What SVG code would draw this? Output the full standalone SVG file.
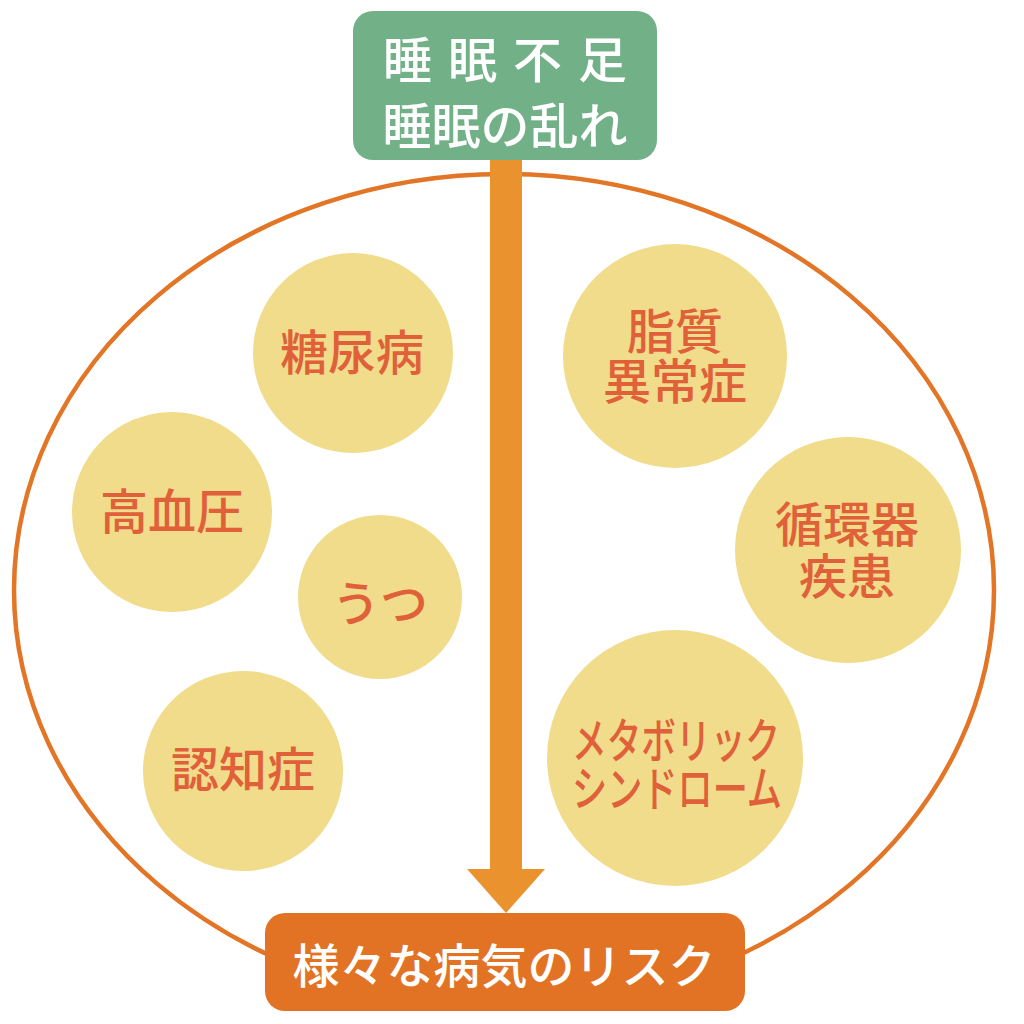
<svg xmlns="http://www.w3.org/2000/svg" width="1024" height="1024" viewBox="0 0 1024 1024">
<style>
.jp{font-family:"Noto Sans CJK JP","Noto Sans",sans-serif;text-anchor:middle;dominant-baseline:central;font-weight:500}
.wt{fill:#ffffff}
.dz{fill:#f0dc8a}
.dt{fill:#e0603a;font-size:48px}
</style>
<rect width="1024" height="1024" fill="#ffffff"/>
<g id="scope">
<ellipse cx="504" cy="590" rx="490" ry="416" fill="none" stroke="#e37526" stroke-width="4.5"/>
</g>
<g id="connectors">
<rect x="490" y="158" width="32" height="712" fill="#e9922e"/>
<polygon points="467,869 545,869 506,913" fill="#e9922e"/>
</g>
<g id="top">
<rect x="353" y="11" width="304" height="149" rx="20" fill="#72b087"/>
<text class="jp wt" font-size="49"><tspan x="513" y="56" letter-spacing="16">睡眠不足</tspan><tspan x="505" y="122">睡眠の乱れ</tspan></text>
</g>
<g id="bottom">
<rect x="265" y="913" width="480" height="98" rx="20" fill="#e27324"/>
<text class="jp wt" x="504" y="962" font-size="47">様々な病気のリスク</text>
</g>
<g id="n-tonyo">
<circle class="dz" cx="353" cy="353" r="100"/>
<text class="jp dt" x="352" y="349">糖尿病</text>
</g>
<g id="n-ketsuatsu">
<circle class="dz" cx="172" cy="512" r="100"/>
<text class="jp dt" x="172" y="508">高血圧</text>
</g>
<g id="n-utsu">
<circle class="dz" cx="380" cy="597" r="82"/>
<text class="jp dt" x="380" y="600">うつ</text>
</g>
<g id="n-ninchi">
<circle class="dz" cx="243" cy="771" r="100"/>
<text class="jp dt" x="243" y="766">認知症</text>
</g>
<g id="n-shishitsu">
<circle class="dz" cx="675" cy="356" r="112"/>
<text class="jp dt"><tspan x="675" y="328">脂質</tspan><tspan x="675" y="378">異常症</tspan></text>
</g>
<g id="n-junkan">
<circle class="dz" cx="848" cy="550" r="113"/>
<text class="jp dt"><tspan x="847" y="521">循環器</tspan><tspan x="847" y="573">疾患</tspan></text>
</g>
<g id="n-metabo">
<circle class="dz" cx="675" cy="758" r="128"/>
<text class="jp dt" font-size="38"><tspan x="676" y="737" textLength="208" lengthAdjust="spacingAndGlyphs">メタボリック</tspan><tspan x="677" y="785" textLength="210" lengthAdjust="spacingAndGlyphs">シンドローム</tspan></text>
</g>
</svg>
